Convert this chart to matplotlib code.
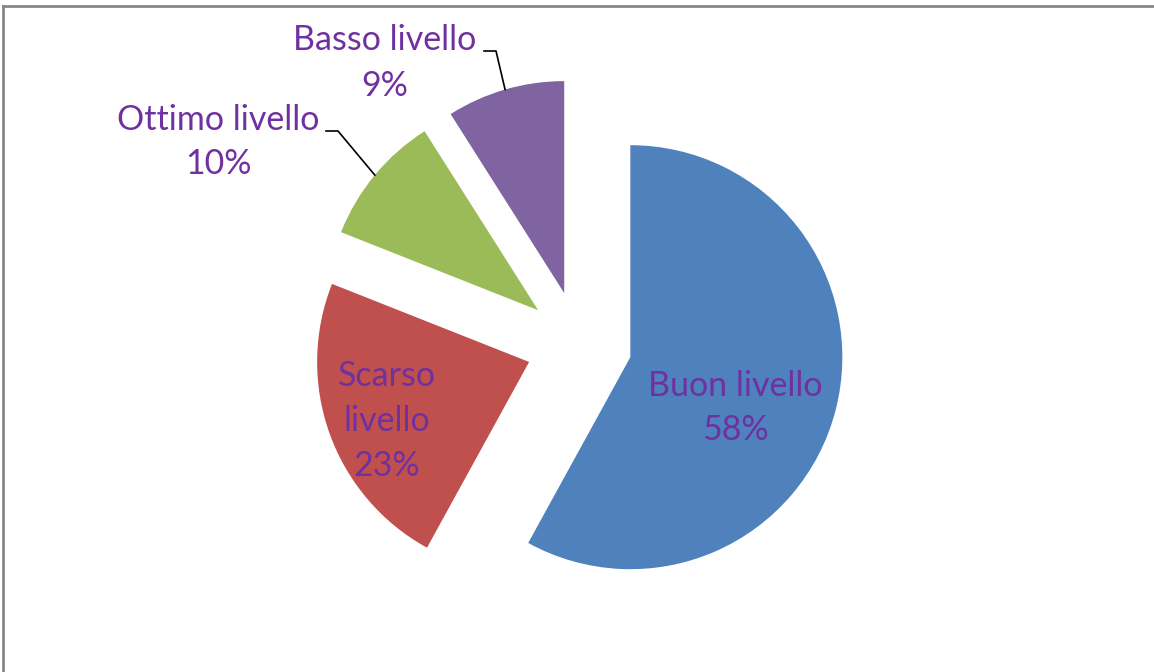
import numpy as np
import matplotlib.pyplot as plt
from matplotlib.lines import Line2D

plt.rcParams['font.family'] = ['Lato', 'DejaVu Sans']

# dati del grafico
categorie = ['Buon livello', 'Scarso livello', 'Ottimo livello', 'Basso livello']
percentuali = [58, 23, 10, 9]
colori = ['#4F81BD', '#C0504D', '#9BBB59', '#8064A2']
colore_testo = '#7030A0'

W, H = 1154, 672
fig = plt.figure(figsize=(W / 100, H / 100), dpi=100)
ax = fig.add_axes([0, 0, 1, 1])

raggio = 212
centro = (579, H - 344)
# tutti gli spicchi staccati dal centro (in unità dei dati)
wedges, _ = ax.pie(percentuali, colors=colori, startangle=90, counterclock=False,
                   explode=[53] * 4, radius=raggio, center=centro,
                   wedgeprops=dict(linewidth=0), frame=True)
ax.set_xlim(0, W)
ax.set_ylim(0, H)
ax.set_aspect('equal')
ax.axis('off')


def punto_arco(w):
    # punto a metà dell'arco di uno spicchio
    ang = np.deg2rad((w.theta1 + w.theta2) / 2)
    cx, cy = w.center
    return cx + w.r * np.cos(ang), cy + w.r * np.sin(ang)


fs = 24.5
kw = dict(color=colore_testo, fontsize=fs, ha='center', va='center', linespacing=1.5)

# etichette interne
ax.text(735, H - 408, 'Buon livello\n58%', **kw)
ax.text(387, H - 421, 'Scarso\nlivello\n23%', **kw)

# etichette esterne con linee guida
ax.text(218, H - 142, 'Ottimo livello\n10%', **kw)
ax.text(385, H - 63, 'Basso livello\n9%', **kw)

px, py = punto_arco(wedges[2])
ax.plot([326, 338, px], [H - 131, H - 131, py], color='black', lw=1.2)
px, py = punto_arco(wedges[3])
ax.plot([484, 496, px], [H - 51, H - 51, py], color='black', lw=1.2)

# cornice del grafico
fig.add_artist(Line2D([3 / W, 3 / W], [0, 1 - 6 / H], transform=fig.transFigure,
                      color='#868686', lw=2))
fig.add_artist(Line2D([3 / W, 1153 / W], [1 - 6 / H, 1 - 6 / H], transform=fig.transFigure,
                      color='#868686', lw=2))

fig.savefig('out.png', dpi=100)
